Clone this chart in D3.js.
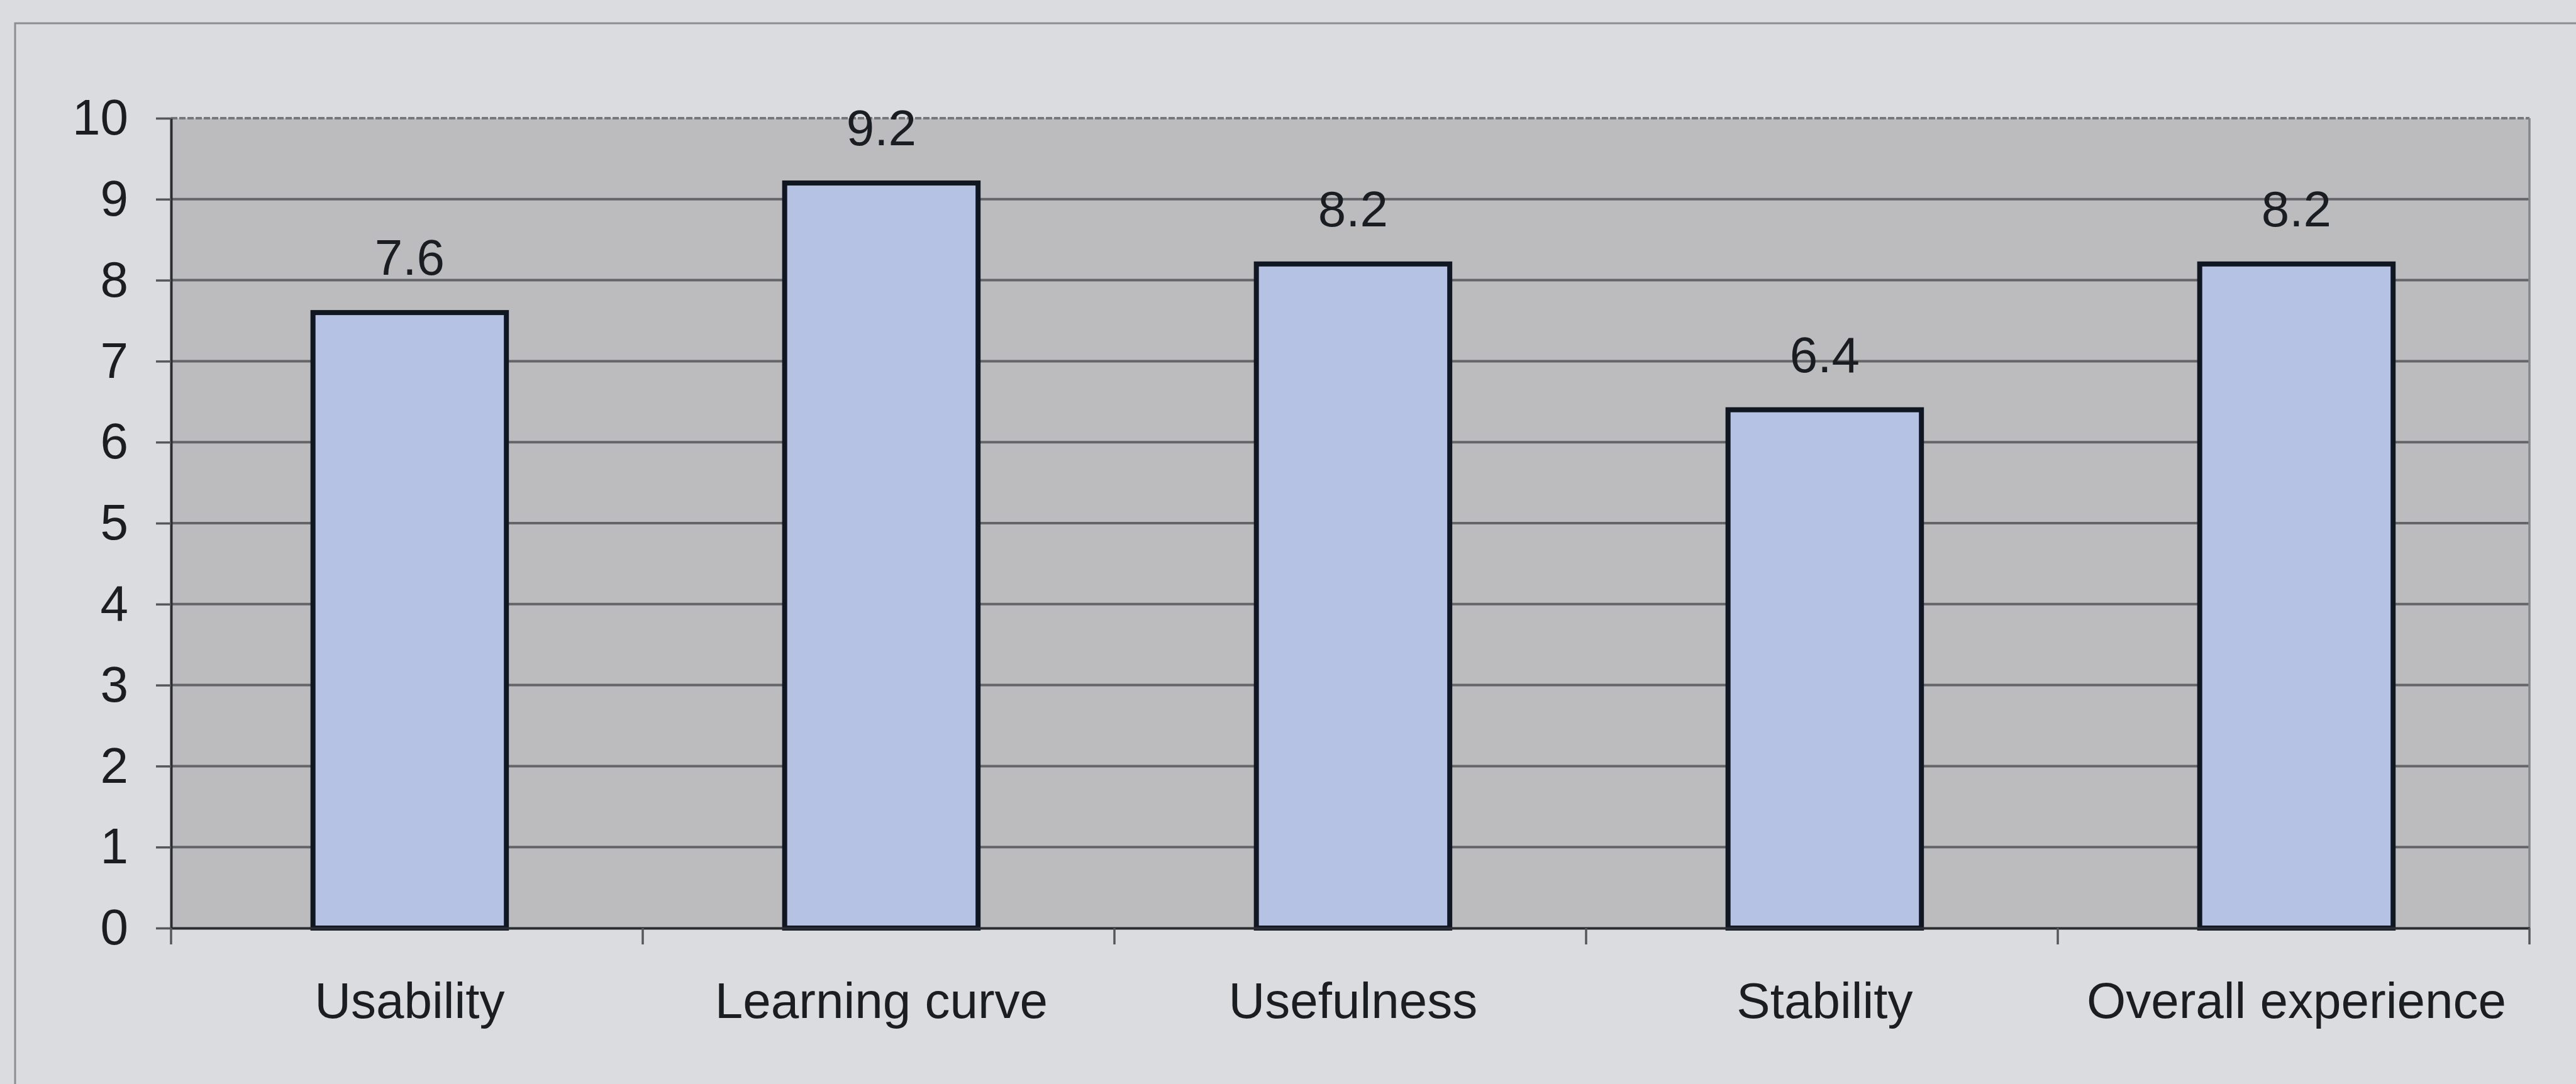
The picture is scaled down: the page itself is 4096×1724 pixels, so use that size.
<!DOCTYPE html>
<html>
<head>
<meta charset="utf-8">
<script src="https://cdn.jsdelivr.net/npm/d3@7"></script>
<style>
  html, body { margin: 0; padding: 0; background: #dadce0; }
  svg { display: block; }
  text { font-family: "Liberation Sans", Arial, sans-serif; fill: #1a1d22; }
</style>
</head>
<body>
<svg id="chart" width="4096" height="1724"></svg>
<script>
// Survey ratings per category (0–10 scale)
const categories = ["Usability", "Learning curve", "Usefulness", "Stability", "Overall experience"];
const scores = [7.6, 9.2, 8.2, 6.4, 8.2];
const yTicks = [0, 1, 2, 3, 4, 5, 6, 7, 8, 9, 10];

const W = 4096, H = 1724;
const plot = { left: 272, right: 4022, top: 188, bottom: 1476 };
const FONT = 80;

const svg = d3.select("#chart");

// page background and outer frame
svg.append("rect").attr("width", W).attr("height", H).attr("fill", "#dadce0");
svg.append("rect")
  .attr("x", 24).attr("y", 37).attr("width", W + 20).attr("height", H + 20)
  .attr("fill", "none").attr("stroke", "#8a8d92").attr("stroke-width", 3);

const x = d3.scaleBand()
  .domain(categories)
  .range([plot.left, plot.right])
  .paddingInner(0.59)
  .paddingOuter(0.295)
  .align(0.51);

const y = d3.scaleLinear()
  .domain([0, 10])
  .range([plot.bottom, plot.top]);

// plot area
svg.append("rect")
  .attr("x", plot.left).attr("y", plot.top)
  .attr("width", plot.right - plot.left).attr("height", plot.bottom - plot.top)
  .attr("fill", "#bcbcbe");

// horizontal gridlines
svg.append("g")
  .selectAll("line")
  .data(yTicks.filter(t => t > 0 && t < 10))
  .join("line")
  .attr("x1", plot.left).attr("x2", plot.right)
  .attr("y1", d => y(d)).attr("y2", d => y(d))
  .attr("stroke", "#646568").attr("stroke-width", 4);

// top and right border of the plot area
svg.append("line")
  .attr("x1", plot.left).attr("x2", plot.right)
  .attr("y1", y(10)).attr("y2", y(10))
  .attr("stroke", "#77787b").attr("stroke-width", 4)
  .attr("stroke-dasharray", "10 3");
svg.append("line")
  .attr("x1", plot.right).attr("x2", plot.right)
  .attr("y1", y(10)).attr("y2", y(0))
  .attr("stroke", "#86878a").attr("stroke-width", 3.5);

// bars
svg.append("g")
  .selectAll("rect")
  .data(categories)
  .join("rect")
  .attr("x", d => x(d))
  .attr("y", (d, i) => y(scores[i]))
  .attr("width", x.bandwidth())
  .attr("height", (d, i) => y(0) - y(scores[i]))
  .attr("fill", "#b6c2e3")
  .attr("stroke", "#111722")
  .attr("stroke-width", 8);

// value labels
svg.append("g")
  .selectAll("text")
  .data(categories)
  .join("text")
  .attr("x", d => x(d) + x.bandwidth() / 2)
  .attr("y", (d, i) => y(scores[i]) - 60)
  .attr("text-anchor", "middle")
  .attr("font-size", FONT)
  .text((d, i) => scores[i].toFixed(1));

// y axis
const yAxis = svg.append("g")
  .attr("transform", `translate(${plot.left},0)`)
  .call(d3.axisLeft(y).tickValues(yTicks).tickSize(24).tickPadding(44).tickSizeOuter(0));
yAxis.select(".domain").attr("stroke", "#2a2c30").attr("stroke-width", 4);
yAxis.selectAll(".tick line").attr("stroke", "#55575b").attr("stroke-width", 3.5);
yAxis.selectAll(".tick text")
  .attr("font-size", FONT).attr("font-family", "Liberation Sans, Arial, sans-serif")
  .attr("fill", "#1a1d22");

// x axis
const xAxis = svg.append("g")
  .attr("transform", `translate(0,${plot.bottom})`)
  .call(d3.axisBottom(x).tickSize(0).tickPadding(86).tickSizeOuter(0));
xAxis.select(".domain").attr("stroke", "#2a2c30").attr("stroke-width", 4);
xAxis.selectAll(".tick text")
  .attr("font-size", FONT).attr("font-family", "Liberation Sans, Arial, sans-serif")
  .attr("fill", "#1a1d22");

// tick marks at the category boundaries
const step = x.step();
const bounds = d3.range(categories.length + 1).map(i => plot.left + i * ((plot.right - plot.left) / categories.length));
svg.append("g")
  .selectAll("line")
  .data(bounds)
  .join("line")
  .attr("x1", d => d).attr("x2", d => d)
  .attr("y1", plot.bottom).attr("y2", plot.bottom + 26)
  .attr("stroke", "#55575b").attr("stroke-width", 3.5);
</script>
</body>
</html>
